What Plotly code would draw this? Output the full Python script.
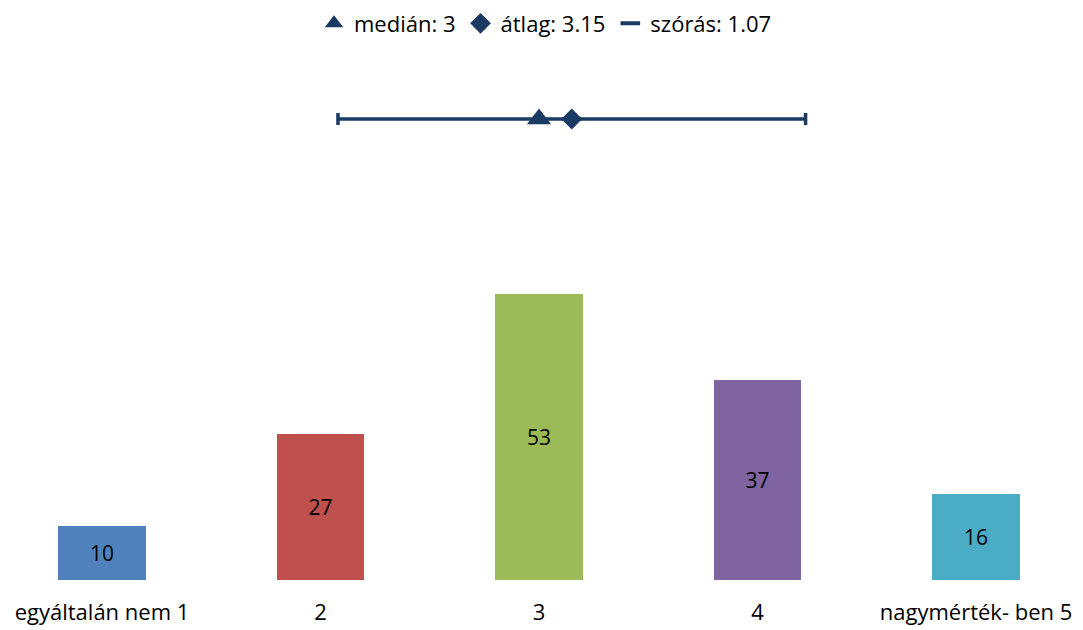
import plotly.graph_objects as go

# data
categories = ["egyáltalán nem 1", "2", "3", "4", "nagymérték- ben 5"]
scale_values = [1, 2, 3, 4, 5]
counts = [10, 27, 53, 37, 16]
bar_colors = ["#4F81BD", "#C0504D", "#9BBB59", "#8064A2", "#4BACC6"]

median = 3
mean = 3.15
sd = 1.07

stat_color = "#1B3A63"
font_family = "'Open Sans', Lato, sans-serif"
stat_row = 0.8865  # height of the summary row on the overlay axis

fig = go.Figure()

fig.add_trace(
    go.Bar(
        x=scale_values,
        y=counts,
        width=0.4,
        marker=dict(color=bar_colors, line=dict(width=0)),
        text=[str(v) for v in counts],
        textposition="inside",
        insidetextanchor="middle",
        textfont=dict(size=21, color="#000000", family=font_family),
        showlegend=False,
        hoverinfo="skip",
    )
)

fig.add_trace(
    go.Scatter(
        x=[mean],
        y=[stat_row],
        yaxis="y2",
        mode="markers",
        name=f"szórás: {sd}",
        marker=dict(symbol="line-ew", size=14, color=stat_color, line=dict(color=stat_color, width=4)),
        error_x=dict(type="data", array=[sd], symmetric=True, color=stat_color, thickness=3.5, width=6),
    )
)

fig.add_trace(
    go.Scatter(
        x=[median],
        y=[stat_row],
        yaxis="y2",
        mode="markers",
        name=f"medián: {median}",
        marker=dict(symbol="triangle-up", size=21, color=stat_color),
    )
)

fig.add_trace(
    go.Scatter(
        x=[mean],
        y=[stat_row],
        yaxis="y2",
        mode="markers",
        name=f"átlag: {mean}",
        marker=dict(symbol="diamond", size=16, color=stat_color),
    )
)

fig.update_layout(
    width=1075,
    height=622,
    margin=dict(l=0, r=0, t=52, b=50, autoexpand=False),
    plot_bgcolor="white",
    paper_bgcolor="white",
    font=dict(family=font_family, size=22, color="#000000"),
    showlegend=True,
    legend=dict(
        orientation="h",
        x=0.5,
        xanchor="center",
        yref="container",
        y=0.975,
        yanchor="middle",
        traceorder="normal",
        itemwidth=30,
        font=dict(size=22),
        tracegroupgap=0,
    ),
    xaxis=dict(
        range=[0.5698, 5.4897],
        tickvals=scale_values,
        ticktext=categories,
        showgrid=False,
        zeroline=False,
        showline=False,
        ticks="outside",
        ticklen=13,
        tickcolor="rgba(0,0,0,0)",
        tickfont=dict(size=22),
    ),
    yaxis=dict(range=[0, 96.3], visible=False, showgrid=False, zeroline=False),
    yaxis2=dict(range=[0, 1], overlaying="y", visible=False, showgrid=False, zeroline=False),
    bargap=0,
)

# legend order: median, mean, sd
fig.data[1].legendrank = 3
fig.data[2].legendrank = 1
fig.data[3].legendrank = 2

fig.write_html("out.html")
